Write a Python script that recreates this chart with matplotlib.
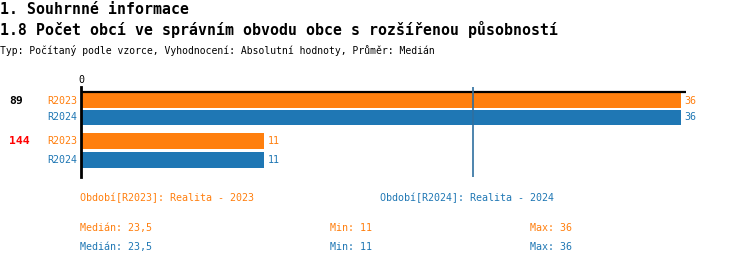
import numpy as np
import matplotlib
matplotlib.use("Agg")
import matplotlib.pyplot as plt

# ---- data ----
categories = ["89", "144"]
category_colors = ["black", "red"]
series = ["R2023", "R2024"]
series_names = ["Realita - 2023", "Realita - 2024"]
values_r2023 = [36, 11]
values_r2024 = [36, 11]

title1 = "1. Souhrnné informace"
title2 = "1.8 Počet obcí ve správním obvodu obce s rozšířenou působností"
subtitle = "Typ: Počítaný podle vzorce, Vyhodnocení: Absolutní hodnoty, Průměr: Medián"

ORANGE = "#ff7f0e"
BLUE = "#1f77b4"
colors = [ORANGE, BLUE]
MONO = "DejaVu Sans Mono"

W, H = 750, 266
fig = plt.figure(figsize=(W / 100, H / 100), dpi=100)

def fx(px):
    return px / W

def fy(py):
    return 1 - py / H

# axes area in pixels
ax_l, ax_r, ax_t, ax_b = 81, 686, 87, 177
ax = fig.add_axes([fx(ax_l), fy(ax_b), fx(ax_r) - fx(ax_l), fy(ax_t) - fy(ax_b)])
ax.set_ylim(ax_b, ax_t)
ax.set_xlim(0, 36.3)

all_vals = [values_r2023, values_r2024]
group_centers = [[100.5, 117.5], [141, 160]]
bar_h = 15.5
for gi, cat in enumerate(categories):
    for si, s in enumerate(series):
        v = all_vals[si][gi]
        yc = group_centers[gi][si]
        ax.barh(yc, v, height=bar_h, color=colors[si], zorder=2)
        ax.text(v + 0.18, yc, str(v), color=colors[si], fontsize=7.2,
                family=MONO, va="center", ha="left")
        fig.text(fx(77), fy(yc), s, color=colors[si], fontsize=7.2,
                 family=MONO, va="center", ha="right")
    fig.text(fx(9), fy(group_centers[gi][0]), cat, color=category_colors[gi],
             fontsize=8.2, family=MONO, fontweight="bold", va="center", ha="left")

# top axis line
ax.axhline(92, color="black", lw=1.6, zorder=3)
# median line
all_flat = np.array(values_r2023 + values_r2024, dtype=float)
med = np.median(all_flat)
ax.axvline(med, color="#2f6f9f", lw=1.2, zorder=4)

for sp in ["top", "right", "bottom"]:
    ax.spines[sp].set_visible(False)
ax.spines["left"].set_linewidth(2)
ax.spines["left"].set_zorder(5)
ax.set_yticks([])
ax.set_xticks([0])
ax.xaxis.tick_top()
ax.tick_params(axis="x", length=0, pad=1.5, labelsize=7.2)
for lab in ax.get_xticklabels():
    lab.set_family(MONO)

# titles
fig.text(fx(0), fy(9), title1, fontsize=10.75, family=MONO, fontweight="bold",
         va="center", ha="left")
fig.text(fx(0), fy(30), title2, fontsize=10.75, family=MONO, fontweight="bold",
         va="center", ha="left")
fig.text(fx(0), fy(50), subtitle, fontsize=7.05, family=MONO,
         va="center", ha="left")

# legend-like texts
leg_x = [80, 380]
for si, s in enumerate(series):
    fig.text(fx(leg_x[si]), fy(198), f"Období[{s}]: {series_names[si]}",
             color=colors[si], fontsize=7.2, family=MONO, va="center", ha="left")

stat_rows = [228, 247]
for si, s in enumerate(series):
    arr = np.array(all_vals[si], dtype=float)
    m = np.median(arr)
    m_str = (f"{m:.1f}".replace(".", ",")) if m % 1 else f"{int(m)}"
    y = fy(stat_rows[si])
    fig.text(fx(80), y, f"Medián: {m_str}", color=colors[si], fontsize=7.2,
             family=MONO, va="center", ha="left")
    fig.text(fx(330), y, f"Min: {int(arr.min())}", color=colors[si], fontsize=7.2,
             family=MONO, va="center", ha="left")
    fig.text(fx(530), y, f"Max: {int(arr.max())}", color=colors[si], fontsize=7.2,
             family=MONO, va="center", ha="left")

fig.savefig("out.png", dpi=100)
